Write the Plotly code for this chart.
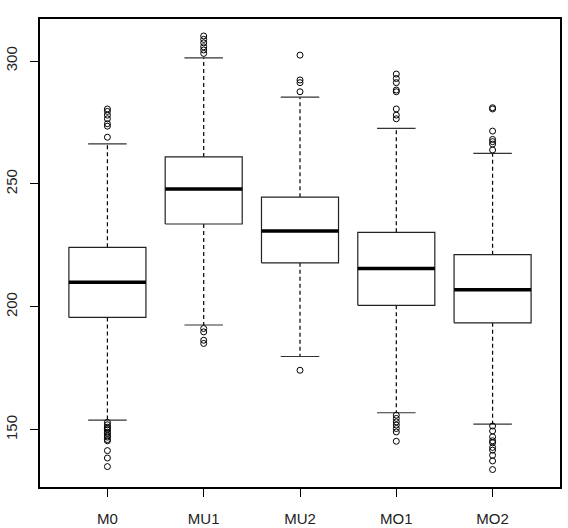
import plotly.graph_objects as go

# ---- data ----
groups = ["M0", "MU1", "MU2", "MO1", "MO2"]
q1 = [195.7, 233.7, 217.9, 200.6, 193.5]
median = [210.0, 247.9, 230.9, 215.6, 206.9]
q3 = [224.2, 261.0, 244.6, 230.3, 221.2]
lower_fence = [153.9, 192.6, 179.8, 156.9, 152.3]
upper_fence = [266.3, 301.3, 285.3, 272.6, 262.4]
outliers = [
    [269.0, 273.5, 274.5, 276.5, 278.0, 279.5, 280.5,
     153.0, 152.0, 151.0, 150.5, 150.0, 149.0, 148.5, 147.5, 147.0, 146.0, 145.5, 141.5, 138.5, 135.0],
    [303.1, 304.5, 305.8, 307.4, 308.8, 310.2,
     191.2, 189.8, 186.4, 185.1],
    [287.5, 291.2, 292.3, 302.4,
     174.2],
    [276.5, 278.0, 280.5, 287.5, 288.2, 291.2, 292.9, 294.7,
     155.9, 154.6, 153.2, 151.9, 150.5, 149.1, 145.3],
    [263.8, 266.2, 267.2, 268.1, 271.5, 280.5, 281.0,
     151.5, 149.5, 147.1, 145.5, 144.7, 142.8, 141.7, 139.6, 137.3, 133.8],
]
y_ticks = [150, 200, 250, 300]

BOX_HALF = 0.4
CAP_HALF = 0.2

box_x, box_y = [], []
med_x, med_y = [], []
wh_x, wh_y = [], []
cap_x, cap_y = [], []
out_x, out_y = [], []
for i in range(len(groups)):
    box_x += [i - BOX_HALF, i + BOX_HALF, i + BOX_HALF, i - BOX_HALF, i - BOX_HALF, None]
    box_y += [q1[i], q1[i], q3[i], q3[i], q1[i], None]
    med_x += [i - BOX_HALF, i + BOX_HALF, None]
    med_y += [median[i], median[i], None]
    wh_x += [i, i, None, i, i, None]
    wh_y += [q3[i], upper_fence[i], None, q1[i], lower_fence[i], None]
    cap_x += [i - CAP_HALF, i + CAP_HALF, None, i - CAP_HALF, i + CAP_HALF, None]
    cap_y += [upper_fence[i], upper_fence[i], None, lower_fence[i], lower_fence[i], None]
    out_x += [i] * len(outliers[i])
    out_y += outliers[i]

fig = go.Figure()
fig.add_trace(go.Scatter(x=wh_x, y=wh_y, mode="lines",
                         line=dict(color="black", width=1.2, dash="4px,3px"), hoverinfo="skip"))
fig.add_trace(go.Scatter(x=cap_x, y=cap_y, mode="lines",
                         line=dict(color="#333", width=1.2), hoverinfo="skip"))
fig.add_trace(go.Scatter(x=box_x, y=box_y, mode="lines", fill="toself", fillcolor="white",
                         line=dict(color="#222", width=1.2), hoverinfo="skip"))
fig.add_trace(go.Scatter(x=med_x, y=med_y, mode="lines",
                         line=dict(color="black", width=3.5), hoverinfo="skip"))
fig.add_trace(go.Scatter(x=out_x, y=out_y, mode="markers",
                         marker=dict(symbol="circle-open", size=6, color="black",
                                     line=dict(width=1, color="black")), hoverinfo="skip"))

fig.update_layout(
    width=568, height=528,
    margin=dict(l=40, r=8, t=19, b=41),
    paper_bgcolor="white", plot_bgcolor="white",
    showlegend=False,
    font=dict(family="Liberation Sans, Arial, sans-serif", size=15, color="#222"),
)
fig.update_xaxes(
    range=[-0.7, 4.7], tickmode="array", tickvals=list(range(len(groups))), ticktext=groups,
    showgrid=False, zeroline=False, showline=True, mirror=True, linecolor="black", linewidth=1.5,
    ticks="outside", ticklen=8, tickcolor="black", tickwidth=1, ticklabelstandoff=9,
    automargin=False,
)
fig.update_yaxes(
    range=[126.7, 317.1], tickmode="array", tickvals=y_ticks, ticktext=[str(v) for v in y_ticks],
    tickangle=-90,
    showgrid=False, zeroline=False, showline=True, mirror=True, linecolor="black", linewidth=1.5,
    ticks="outside", ticklen=8, tickcolor="black", tickwidth=1, ticklabelstandoff=7,
    automargin=False,
)

fig.write_html("out.html")
